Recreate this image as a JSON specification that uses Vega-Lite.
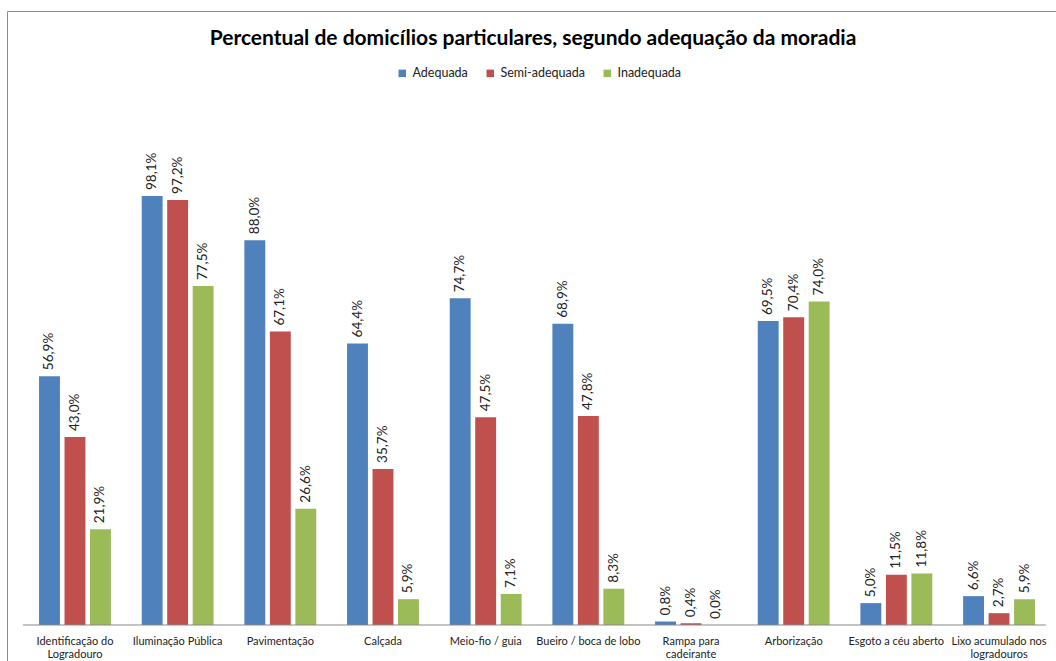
{
  "$schema": "https://vega.github.io/schema/vega-lite/v6.json",
  "autosize": {"type": "none"},
  "padding": {"left": 7, "top": 11, "right": 0, "bottom": 0},
  "width": 1060,
  "height": 660,
  "background": "white",
  "title": {
    "text": "Percentual de domicílios particulares, segundo adequação da moradia",
    "anchor": "middle",
    "frame": "group",
    "font": "Lato",
    "fontSize": 21,
    "fontWeight": "bold",
    "color": "#000000",
    "baseline": "middle",
    "offset": 0,
    "dy": 49,
    "dx": -4
  },
  "data": {
    "values": [
      {"cat": "Identificação do Logradouro", "serie": "Adequada", "v": 56.9},
      {"cat": "Identificação do Logradouro", "serie": "Semi-adequada", "v": 43.0},
      {"cat": "Identificação do Logradouro", "serie": "Inadequada", "v": 21.9},
      {"cat": "Iluminação Pública", "serie": "Adequada", "v": 98.1},
      {"cat": "Iluminação Pública", "serie": "Semi-adequada", "v": 97.2},
      {"cat": "Iluminação Pública", "serie": "Inadequada", "v": 77.5},
      {"cat": "Pavimentação", "serie": "Adequada", "v": 88.0},
      {"cat": "Pavimentação", "serie": "Semi-adequada", "v": 67.1},
      {"cat": "Pavimentação", "serie": "Inadequada", "v": 26.6},
      {"cat": "Calçada", "serie": "Adequada", "v": 64.4},
      {"cat": "Calçada", "serie": "Semi-adequada", "v": 35.7},
      {"cat": "Calçada", "serie": "Inadequada", "v": 5.9},
      {"cat": "Meio-fio / guia", "serie": "Adequada", "v": 74.7},
      {"cat": "Meio-fio / guia", "serie": "Semi-adequada", "v": 47.5},
      {"cat": "Meio-fio / guia", "serie": "Inadequada", "v": 7.1},
      {"cat": "Bueiro / boca de lobo", "serie": "Adequada", "v": 68.9},
      {"cat": "Bueiro / boca de lobo", "serie": "Semi-adequada", "v": 47.8},
      {"cat": "Bueiro / boca de lobo", "serie": "Inadequada", "v": 8.3},
      {"cat": "Rampa para cadeirante", "serie": "Adequada", "v": 0.8},
      {"cat": "Rampa para cadeirante", "serie": "Semi-adequada", "v": 0.4},
      {"cat": "Rampa para cadeirante", "serie": "Inadequada", "v": 0.0},
      {"cat": "Arborização", "serie": "Adequada", "v": 69.5},
      {"cat": "Arborização", "serie": "Semi-adequada", "v": 70.4},
      {"cat": "Arborização", "serie": "Inadequada", "v": 74.0},
      {"cat": "Esgoto a céu aberto", "serie": "Adequada", "v": 5.0},
      {"cat": "Esgoto a céu aberto", "serie": "Semi-adequada", "v": 11.5},
      {"cat": "Esgoto a céu aberto", "serie": "Inadequada", "v": 11.8},
      {"cat": "Lixo acumulado nos logradouros", "serie": "Adequada", "v": 6.6},
      {"cat": "Lixo acumulado nos logradouros", "serie": "Semi-adequada", "v": 2.7},
      {"cat": "Lixo acumulado nos logradouros", "serie": "Inadequada", "v": 5.9}
    ]
  },
  "encoding": {
    "x": {
      "field": "cat",
      "type": "nominal",
      "sort": null,
      "title": null,
      "scale": {"paddingInner": 0.3, "paddingOuter": 0.312},
      "axis": {
        "orient": "bottom",
        "offset": -36,
        "domain": false,
        "ticks": false,
        "labelPadding": 0,
        "labelAngle": 0,
        "labelBaseline": "top",
        "labelFont": "Lato",
        "labelFontSize": 11,
        "labelColor": "#222222",
        "labelLineHeight": 13,
        "labelExpr": "datum.value == 'Identificação do Logradouro' ? ['Identificação do', 'Logradouro'] : datum.value == 'Rampa para cadeirante' ? ['Rampa para', 'cadeirante'] : datum.value == 'Lixo acumulado nos logradouros' ? ['Lixo acumulado nos', 'logradouros'] : datum.value"
      }
    },
    "y": {
      "field": "v",
      "type": "quantitative",
      "scale": {"domain": [-10.52, 140.41], "nice": false, "zero": false},
      "axis": null
    },
    "xOffset": {
      "field": "serie",
      "type": "nominal",
      "sort": ["Adequada", "Semi-adequada", "Inadequada"],
      "scale": {"paddingInner": 0.18, "paddingOuter": 0}
    }
  },
  "layer": [
    {
      "mark": {"type": "bar"},
      "encoding": {
        "color": {
          "field": "serie",
          "type": "nominal",
          "scale": {
            "domain": ["Adequada", "Semi-adequada", "Inadequada"],
            "range": ["#4F81BD", "#C0504D", "#9BBB59"]
          },
          "legend": {
            "title": null,
            "orient": "none",
            "direction": "horizontal",
            "legendX": 389,
            "legendY": 56,
            "symbolType": "square",
            "symbolSize": 56,
            "symbolStrokeWidth": 0,
            "labelFont": "Lato",
            "labelFontSize": 12.5,
            "labelColor": "#222222",
            "labelOffset": 4,
            "columnPadding": 16,
            "padding": 0
          }
        }
      }
    },
    {
      "transform": [
        {"calculate": "replace(format(datum.v, '.1f'), '.', ',') + '%'", "as": "label"}
      ],
      "mark": {
        "type": "text",
        "angle": 270,
        "align": "left",
        "baseline": "middle",
        "dx": 6,
        "font": "Lato",
        "fontSize": 13.5,
        "color": "#222222"
      },
      "encoding": {
        "text": {"field": "label"}
      }
    },
    {
      "data": {"values": [{"base": 0}]},
      "mark": {"type": "rule", "color": "#888888", "strokeWidth": 1},
      "encoding": {
        "y": {"field": "base", "type": "quantitative"},
        "x": {"datum": "Identificação do Logradouro", "bandPosition": -0.224},
        "x2": {"datum": "Lixo acumulado nos logradouros", "bandPosition": 1.15},
        "xOffset": null
      }
    }
  ],
  "config": {
    "view": {"stroke": "#8C8C8C", "strokeWidth": 1},
    "axis": {"grid": false}
  }
}
